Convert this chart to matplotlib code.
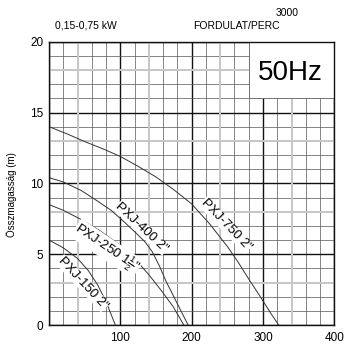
import matplotlib
matplotlib.use('Agg')
import matplotlib.pyplot as plt
from matplotlib.patches import Rectangle

plt.rcParams['font.family'] = ['Liberation Sans', 'DejaVu Sans']
plt.rcParams['mathtext.fontset'] = 'custom'
plt.rcParams['mathtext.rm'] = 'Liberation Sans'

# flow (l/perc) vs total head (m)
x750 = [0, 25, 50, 75, 100, 125, 150, 175, 200, 225, 250, 265, 280, 295, 310, 322]
y750 = [14.0, 13.5, 12.95, 12.45, 11.9, 11.2, 10.45, 9.55, 8.55, 7.15, 5.55, 4.45, 3.25, 2.1, 0.9, 0]

x400 = [0, 20, 45, 65, 87, 105, 125, 135, 145, 155, 164, 175, 186, 195]
y400 = [10.4, 10.1, 9.5, 8.85, 8.1, 7.3, 6.35, 5.85, 5.15, 4.15, 3.1, 2.0, 0.9, 0]

x250 = [0, 20, 45, 70, 98, 120, 140, 158, 174, 189]
y250 = [8.5, 8.1, 7.45, 6.7, 5.7, 4.7, 3.55, 2.4, 1.3, 0]

x150 = [0, 20, 40, 55, 68, 80, 93]
y150 = [6.0, 5.45, 4.7, 3.85, 2.85, 1.65, 0]

curve_labels = ['PXJ-750 2"', 'PXJ-400 2"', r'PXJ-250 1$\frac{1}{2}$"', 'PXJ-150 2"']
label_pos = [(248, 7.05), (130, 6.85), (81, 5.4), (47, 2.95)]
label_rot = [-46, -43, -34, -47]

xticks = [0, 100, 200, 300, 400]
xticklabels = ['', '100', '200', '300', '400']
yticks = [0, 5, 10, 15, 20]

fig = plt.figure(figsize=(3.44, 3.44), dpi=100)
ax = fig.add_axes([0.1424, 0.0552, 0.8294, 0.8236])
ax.set_xlim(0, 400)
ax.set_ylim(0, 20)

ax.set_xticks(xticks)
ax.set_xticklabels(xticklabels)
ax.set_yticks(yticks)
ax.set_xticks(range(0, 401, 20), minor=True)
ax.set_yticks(range(0, 21, 1), minor=True)
ax.tick_params(which='both', length=0, labelsize=8.5)
ax.tick_params(axis='x', pad=5)
ax.tick_params(axis='y', pad=4)
ax.set_axisbelow(True)
ax.grid(which='major', color='#111111', lw=1.0)
ax.grid(which='minor', color='#555555', lw=0.5)

# lighter lines in the scanned grid
for gx in [40, 140, 240, 340]:
    ax.axvline(gx, color='#c8c8c8', lw=1.4, zorder=0.8)
for gy in [3, 8, 13, 18]:
    ax.axhline(gy, color='#c8c8c8', lw=1.4, zorder=0.8)

for s in ax.spines.values():
    s.set_color('#111111')
    s.set_linewidth(1.0)

# 50Hz box
ax.add_patch(Rectangle((280, 16), 120, 4, facecolor='white', edgecolor='#555555',
                       lw=0.5, zorder=1))
ax.text(338, 17.8, '50Hz', fontsize=20, ha='center', va='center', zorder=3)

for xs, ys in [(x750, y750), (x400, y400), (x250, y250), (x150, y150)]:
    ax.plot(xs, ys, color='#333333', lw=0.7, zorder=2)

for txt, (lx, ly), rot in zip(curve_labels, label_pos, label_rot):
    ax.text(lx, ly, txt, fontsize=9.5, rotation=rot, ha='center', va='center',
            rotation_mode='anchor', zorder=3,
            bbox=dict(facecolor='white', edgecolor='none', pad=0.3))

fig.text(55 / 344, 1 - 26 / 344, '0,15-0,75 kW', fontsize=7.5, ha='left', va='center')
fig.text(236.7 / 344, 1 - 26 / 344, 'FORDULAT/PERC', fontsize=7.5, ha='center', va='center')
fig.text(286.7 / 344, 1 - 13.5 / 344, '3000', fontsize=7.5, ha='center', va='center')
fig.text(12 / 344, 1 - 195 / 344, 'Összmagasság (m)', fontsize=7, rotation=90,
         ha='center', va='center')

fig.savefig('out.png', dpi=100)
